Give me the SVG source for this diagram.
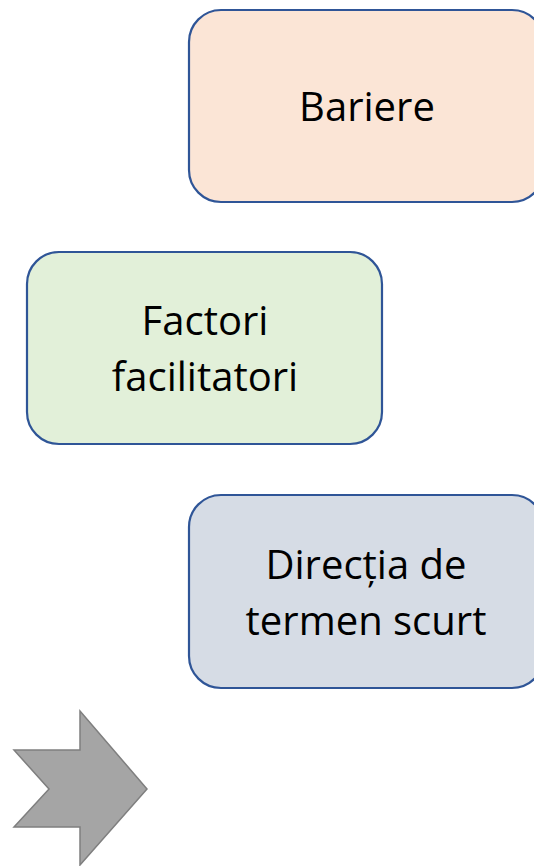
<svg xmlns="http://www.w3.org/2000/svg" width="534" height="866" viewBox="0 0 534 866">
<style>
.box{stroke:#2F5597;stroke-width:2.2}
.lbl{font-family:"Open Sans","Liberation Sans",sans-serif;font-size:40px;fill:#000;text-anchor:middle}
</style>
<rect width="534" height="866" fill="#fff"/>
<g id="bariere">
<rect class="box" x="189" y="10" width="355" height="192" rx="32" fill="#FBE5D6"/>
<text class="lbl" x="367" y="121">Bariere</text>
</g>
<g id="factori">
<rect class="box" x="27" y="252" width="355" height="192" rx="32" fill="#E2F0D9"/>
<text class="lbl" x="205" y="335">Factori</text>
<text class="lbl" x="205" y="391">facilitatori</text>
</g>
<g id="directia">
<rect class="box" x="189" y="495" width="355" height="193" rx="32" fill="#D6DCE5"/>
<text class="lbl" x="366" y="579">Direcția de</text>
<text class="lbl" x="366" y="635">termen scurt</text>
</g>
<g id="arrow">
<polygon points="14,750 80,750 80,711 147,789 80,865 80,827 14,827 49,789" fill="#A5A5A5" stroke="#7F7F7F" stroke-width="1.5"/>
</g>
<g id="connectors"></g>
</svg>
